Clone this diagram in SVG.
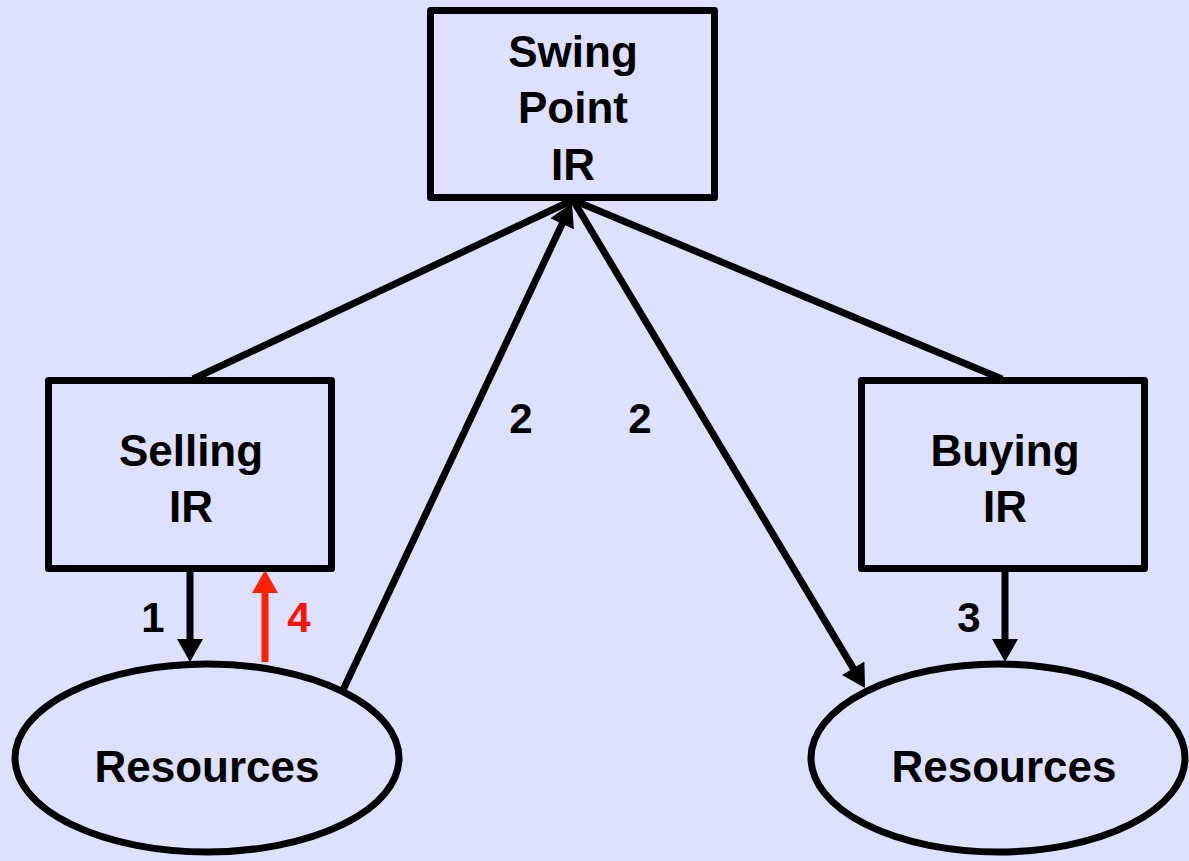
<svg xmlns="http://www.w3.org/2000/svg" width="1189" height="861" viewBox="0 0 1189 861">
  <style>
    .box { fill: #DDE0FF; stroke: #000; stroke-width: 7; stroke-linejoin: round; }
    .edge { stroke: #000; stroke-width: 7; fill: none; }
    .red { stroke: #FF2200; }
    .lbl { font-family: "Liberation Sans", Arial, sans-serif; font-weight: bold; font-size: 44px; fill: #000; text-anchor: middle; }
    .num { font-family: "Liberation Sans", Arial, sans-serif; font-weight: bold; font-size: 42px; fill: #000; text-anchor: middle; }
    .num.alert { fill: #FF1100; }
  </style>
  <defs>
    <marker id="head" markerUnits="userSpaceOnUse" markerWidth="26" markerHeight="26" viewBox="0 0 23 26" refX="13" refY="13" orient="auto">
      <path d="M0,0 L23,13 L0,26 z" fill="#000"/>
    </marker>
    <marker id="headRed" markerUnits="userSpaceOnUse" markerWidth="26" markerHeight="26" viewBox="0 0 23 26" refX="13" refY="13" orient="auto">
      <path d="M0,0 L23,13 L0,26 z" fill="#FF2200"/>
    </marker>
  </defs>

  <rect width="1189" height="861" fill="#DDE0FF"/>

  <g id="connectors">
    <line class="edge" x1="193" y1="379" x2="573" y2="200"/>
    <line class="edge" x1="1002" y1="379" x2="573" y2="200"/>
    <line class="edge" x1="343" y1="690" x2="567.7" y2="212" marker-end="url(#head)"/>
    <line class="edge" x1="573" y1="200" x2="859.9" y2="679.4" marker-end="url(#head)"/>
    <line class="edge" x1="190" y1="572" x2="190" y2="652" marker-end="url(#head)"/>
    <line class="edge red" x1="265" y1="662" x2="265" y2="580" marker-end="url(#headRed)"/>
    <line class="edge" x1="1005" y1="572" x2="1005" y2="652" marker-end="url(#head)"/>
    <text class="num" x="153" y="632">1</text>
    <text class="num alert" x="299" y="632">4</text>
    <text class="num" x="521" y="433">2</text>
    <text class="num" x="640" y="433">2</text>
    <text class="num" x="969" y="632">3</text>
  </g>

  <g id="swing-point">
    <rect class="box" x="430.5" y="10.5" width="284" height="187"/>
    <text class="lbl" x="573" y="67">Swing</text>
    <text class="lbl" x="573" y="123">Point</text>
    <text class="lbl" x="573" y="180">IR</text>
  </g>

  <g id="selling">
    <rect class="box" x="48.5" y="380.5" width="283" height="188"/>
    <text class="lbl" x="191" y="466">Selling</text>
    <text class="lbl" x="191" y="522">IR</text>
  </g>

  <g id="buying">
    <rect class="box" x="861.5" y="380.5" width="283" height="188"/>
    <text class="lbl" x="1005" y="466">Buying</text>
    <text class="lbl" x="1005" y="522">IR</text>
  </g>

  <g id="resources-left">
    <ellipse class="box" cx="207" cy="758" rx="192" ry="94"/>
    <text class="lbl" x="207" y="782">Resources</text>
  </g>

  <g id="resources-right">
    <ellipse class="box" cx="998" cy="758" rx="187" ry="94"/>
    <text class="lbl" x="1004" y="782">Resources</text>
  </g>
</svg>
